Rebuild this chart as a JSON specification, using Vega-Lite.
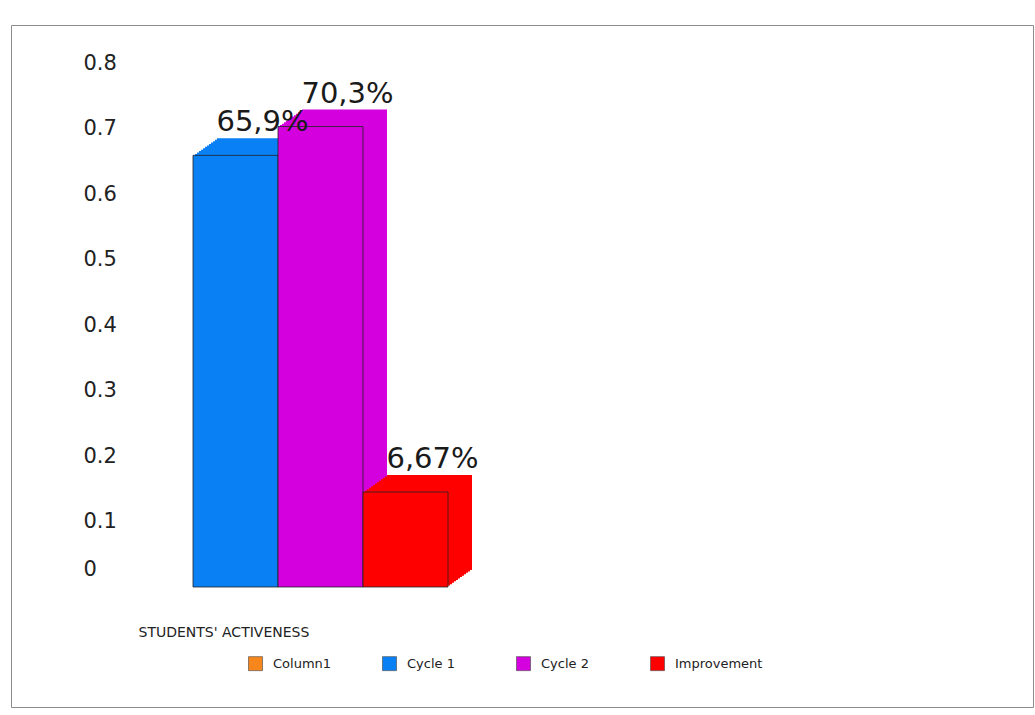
{
  "$schema": "https://vega.github.io/schema/vega-lite/v6.json",
  "width": 1022,
  "height": 682,
  "autosize": {"type": "none"},
  "padding": {"left": 11, "top": 25, "right": 2, "bottom": 8},
  "background": "white",
  "config": {
    "view": {"stroke": "#8c8c8c", "strokeWidth": 1},
    "font": "DejaVu Sans"
  },
  "data": {
    "values": [
      {"series": "Cycle 1", "value": 0.659, "label": "65,9%"},
      {"series": "Cycle 2", "value": 0.703, "label": "70,3%"},
      {"series": "Improvement", "value": 0.145, "label": "6,67%"}
    ]
  },
  "encoding": {
    "x": {
      "field": "series", "type": "nominal", "sort": null,
      "scale": {"range": [182, 437], "paddingInner": 0, "paddingOuter": 0},
      "axis": {
        "title": "STUDENTS' ACTIVENESS", "labels": false, "ticks": false, "domain": false, "grid": false,
        "titleAnchor": "start", "titleAlign": "left", "titleBaseline": "middle",
        "titleX": 127, "titleY": -75, "titleFontSize": 14, "titleFontWeight": "normal", "titleColor": "#222222"
      }
    },
    "y": {
      "field": "value", "type": "quantitative",
      "scale": {"domain": [0, 0.8], "range": [562, 38], "nice": false, "zero": true},
      "axis": {
        "title": null, "values": [0, 0.1, 0.2, 0.3, 0.4, 0.5, 0.6, 0.7, 0.8], "format": ".1~f",
        "labelAlign": "left", "labelBaseline": "middle", "labelPadding": -72, "labelFontSize": 21,
        "labelColor": "#222222", "domain": false, "ticks": false, "grid": false,
        "labelOffset": {"condition": {"test": "datum.value === 0", "value": -18}, "value": 0}
      }
    },
    "color": {
      "field": "series", "type": "nominal",
      "scale": {"domain": ["Column1", "Cycle 1", "Cycle 2", "Improvement"], "range": ["#f7861c", "#0a80f5", "#d400de", "#ff0000"]},
      "legend": {
        "orient": "none", "legendX": 237, "legendY": 631, "direction": "horizontal", "columns": 4, "gridAlign": "all",
        "title": null, "symbolType": "square", "symbolSize": 196, "labelFontSize": 13, "labelOffset": 10,
        "columnPadding": 20, "symbolStrokeColor": "#444444", "symbolStrokeWidth": 0.6, "symbolOpacity": 1, "labelColor": "#222222"
      }
    }
  },
  "layer": [
    {"mark": {"type": "bar", "width": {"band": 1}, "xOffset": 24, "x2Offset": 24, "yOffset": -17, "y2Offset": -17}},
    {"mark": {"type": "bar", "width": {"band": 1}, "xOffset": 22, "x2Offset": 22, "yOffset": -15.58, "y2Offset": -15.58}},
    {"mark": {"type": "bar", "width": {"band": 1}, "xOffset": 20, "x2Offset": 20, "yOffset": -14.17, "y2Offset": -14.17}},
    {"mark": {"type": "bar", "width": {"band": 1}, "xOffset": 18, "x2Offset": 18, "yOffset": -12.75, "y2Offset": -12.75}},
    {"mark": {"type": "bar", "width": {"band": 1}, "xOffset": 16, "x2Offset": 16, "yOffset": -11.33, "y2Offset": -11.33}},
    {"mark": {"type": "bar", "width": {"band": 1}, "xOffset": 14, "x2Offset": 14, "yOffset": -9.92, "y2Offset": -9.92}},
    {"mark": {"type": "bar", "width": {"band": 1}, "xOffset": 12, "x2Offset": 12, "yOffset": -8.5, "y2Offset": -8.5}},
    {"mark": {"type": "bar", "width": {"band": 1}, "xOffset": 10, "x2Offset": 10, "yOffset": -7.08, "y2Offset": -7.08}},
    {"mark": {"type": "bar", "width": {"band": 1}, "xOffset": 8, "x2Offset": 8, "yOffset": -5.67, "y2Offset": -5.67}},
    {"mark": {"type": "bar", "width": {"band": 1}, "xOffset": 6, "x2Offset": 6, "yOffset": -4.25, "y2Offset": -4.25}},
    {"mark": {"type": "bar", "width": {"band": 1}, "xOffset": 4, "x2Offset": 4, "yOffset": -2.83, "y2Offset": -2.83}},
    {"mark": {"type": "bar", "width": {"band": 1}, "xOffset": 2, "x2Offset": 2, "yOffset": -1.42, "y2Offset": -1.42}},
    {"mark": {"type": "bar", "width": {"band": 1}, "stroke": "#222222", "strokeWidth": 1, "strokeOpacity": 0.8}},
    {
      "mark": {"type": "text", "fontSize": 29, "dx": 27, "dy": -24, "baseline": "alphabetic", "align": "center", "color": "#1a1a1a"},
      "encoding": {"text": {"field": "label"}, "color": {"value": "#1a1a1a"}}
    }
  ]
}
